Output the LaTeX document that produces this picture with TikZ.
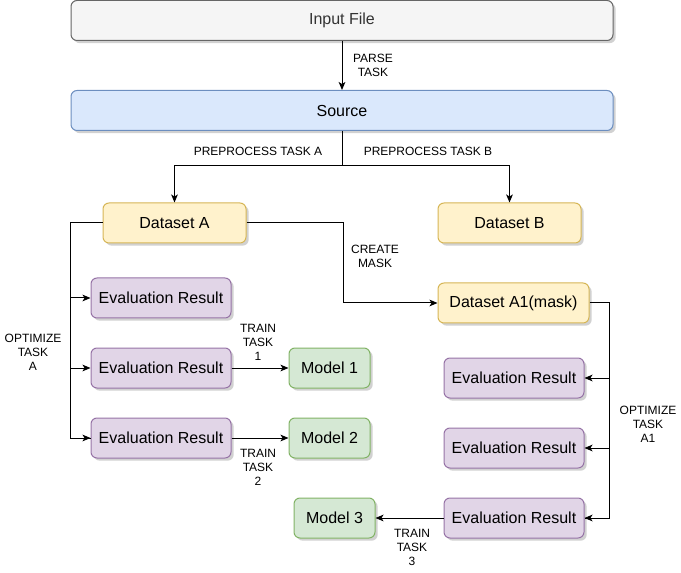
\documentclass[tikz,border=0pt]{standalone}
\usepackage{fontspec}
\setmainfont{Liberation Sans}
\usetikzlibrary{arrows.meta,shadows}
\definecolor{grayF}{HTML}{F5F5F5}\definecolor{grayS}{HTML}{666666}\definecolor{grayT}{HTML}{333333}
\definecolor{blueF}{HTML}{DAE8FC}\definecolor{blueS}{HTML}{6C8EBF}
\definecolor{yelF}{HTML}{FFF2CC}\definecolor{yelS}{HTML}{D6B656}
\definecolor{purF}{HTML}{E1D5E7}\definecolor{purS}{HTML}{9673A6}
\definecolor{grnF}{HTML}{D5E8D4}\definecolor{grnS}{HTML}{82B366}
\tikzset{
  box/.style={rounded corners=4.5pt, minimum height=30pt, inner sep=0pt, font=\fontsize{12pt}{14pt}\selectfont, line width=0.75pt,
    drop shadow={shadow xshift=2pt, shadow yshift=-2pt, fill=black, opacity=0.18}},
  greybox/.style={box, fill=grayF, draw=grayS, text=grayT},
  bluebox/.style={box, fill=blueF, draw=blueS},
  yelbox/.style={box, fill=yelF, draw=yelS},
  purbox/.style={box, fill=purF, draw=purS},
  grnbox/.style={box, fill=grnF, draw=grnS},
  conn/.style={line width=0.75pt, -{Stealth[length=6pt,width=5pt,inset=1.5pt]}},
  plain/.style={line width=0.75pt},
  lbl/.style={font=\fontsize{9pt}{10.5pt}\selectfont, align=center, inner sep=0pt}
}
\begin{document}
\begin{tikzpicture}[x=0.75pt,y=-0.75pt]
\useasboundingbox (0,0) rectangle (681,573);
% nodes
\node[greybox, minimum width=406.5pt] (inp) at (342,20.5) {Input File};
\node[bluebox, minimum width=406.5pt] (src) at (342,110.5) {Source};
\node[yelbox, minimum width=107.25pt] (dsA) at (174.5,223) {Dataset A};
\node[yelbox, minimum width=107.25pt] (dsB) at (509.5,223) {Dataset B};
\node[yelbox, minimum width=113.25pt] (dsA1) at (513.5,303) {Dataset A1(mask)};
\node[purbox, minimum width=105pt] (e1) at (161,298) {Evaluation Result};
\node[purbox, minimum width=105pt] (e2) at (161,368) {Evaluation Result};
\node[purbox, minimum width=105pt] (e3) at (161,438) {Evaluation Result};
\node[grnbox, minimum width=60.75pt] (m1) at (329.5,368) {Model 1};
\node[grnbox, minimum width=60.75pt] (m2) at (329.5,438) {Model 2};
\node[purbox, minimum width=105pt] (r1) at (514,378) {Evaluation Result};
\node[purbox, minimum width=105pt] (r2) at (514,448) {Evaluation Result};
\node[purbox, minimum width=105pt] (r3) at (514,518) {Evaluation Result};
\node[grnbox, minimum width=60.75pt] (m3) at (334.5,518) {Model 3};
% junction coordinates
\coordinate (sj) at (342,166);
\coordinate (lb) at (70,223);
\coordinate (cm) at (343,223);
\coordinate (rb) at (609,303);
% connectors
\draw[conn] (inp) -- (src);
\draw[plain] (src.south) -- (sj);
\draw[conn] (sj) -| (dsA.north);
\draw[conn] (sj) -| (dsB.north);
\draw[plain] (dsA.west) -- (lb) |- (e3.west);
\draw[conn] (lb |- e1.west) -- (e1.west);
\draw[conn] (lb |- e2.west) -- (e2.west);
\draw[conn] (lb |- e3.west) -- (e3.west);
\draw[conn] (dsA.east) -- (cm) |- (dsA1.west);
\draw[plain] (dsA1.east) -- (rb) |- (r3.east);
\draw[conn] (rb |- r1.east) -- (r1.east);
\draw[conn] (rb |- r2.east) -- (r2.east);
\draw[conn] (rb |- r3.east) -- (r3.east);
\draw[conn] (e2) -- (m1);
\draw[conn] (e3) -- (m2);
\draw[conn] (r3) -- (m3);
% labels
\node[lbl] (lparse) at (373,65.5) {PARSE\\TASK};
\node[lbl] (lppa) at (258,151) {PREPROCESS TASK A};
\node[lbl] (lppb) at (428,151) {PREPROCESS TASK B};
\node[lbl] (lcm) at (375,256.5) {CREATE\\MASK};
\node[lbl] (lopa) at (33,352.5) {OPTIMIZE\\TASK\\A};
\node[lbl] (lopa1) at (648,424.5) {OPTIMIZE\\TASK\\A1};
\node[lbl] (lt1) at (258,342.5) {TRAIN\\TASK\\1};
\node[lbl] (lt2) at (258,467.5) {TRAIN\\TASK\\2};
\node[lbl] (lt3) at (412,547.5) {TRAIN\\TASK\\3};
\end{tikzpicture}
\end{document}
